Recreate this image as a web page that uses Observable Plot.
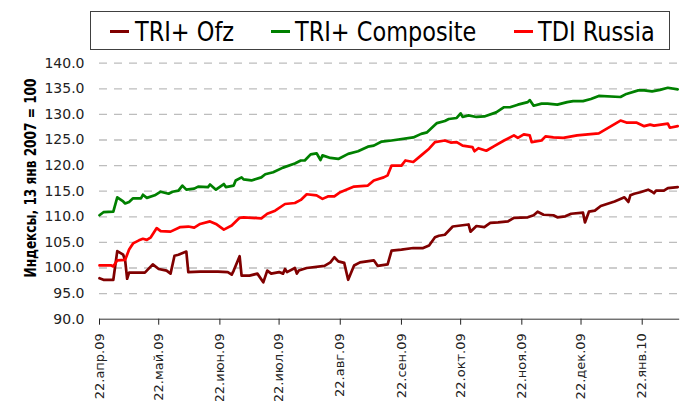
<!DOCTYPE html>
<html><head><meta charset="utf-8">
<script src="https://cdn.jsdelivr.net/npm/d3@7"></script>
<script src="https://cdn.jsdelivr.net/npm/@observablehq/plot@0.6"></script>
<style>
html,body{margin:0;padding:0;background:#fff;}
#wrap{position:relative;width:680px;height:401px;overflow:hidden;font-family:"DejaVu Sans";}
#legend{position:absolute;left:90px;top:11px;width:580px;height:39px;box-sizing:border-box;border:1px solid #404040;background:#fff;}
.sw{position:absolute;top:18px;height:3px;width:19px;}
.lt{position:absolute;top:6px;font-size:27px;line-height:1;white-space:nowrap;transform-origin:0 50%;transform:scaleX(0.83);color:#000;}
#chart{position:absolute;left:0;top:52px;}
</style></head>
<body>
<div id="wrap">
  <div id="legend"></div>
  <div id="chart"></div>
</div>
<script>
// ---- data ----
const seriesNames = ["TRI+ Ofz", "TRI+ Composite", "TDI Russia"];
const seriesColors = ["#800000", "#008000", "#ff0000"];

const ofzDates = ["2009-04-22","2009-04-24","2009-04-29","2009-05-01","2009-05-04","2009-05-05","2009-05-06","2009-05-07","2009-05-15","2009-05-19","2009-05-22","2009-05-26","2009-05-28","2009-05-30","2009-06-01","2009-06-05","2009-06-06","2009-06-12","2009-06-21","2009-06-26","2009-06-28","2009-06-29","2009-07-02","2009-07-03","2009-07-07","2009-07-11","2009-07-14","2009-07-16","2009-07-18","2009-07-22","2009-07-24","2009-07-25","2009-07-26","2009-07-30","2009-07-31","2009-08-01","2009-08-05","2009-08-14","2009-08-17","2009-08-19","2009-08-21","2009-08-24","2009-08-26","2009-08-29","2009-09-01","2009-09-08","2009-09-10","2009-09-15","2009-09-17","2009-09-22","2009-09-28","2009-10-03","2009-10-06","2009-10-09","2009-10-11","2009-10-14","2009-10-18","2009-10-26","2009-10-27","2009-10-30","2009-11-03","2009-11-06","2009-11-10","2009-11-15","2009-11-18","2009-11-25","2009-11-28","2009-11-30","2009-12-03","2009-12-08","2009-12-10","2009-12-14","2009-12-17","2009-12-23","2009-12-24","2009-12-26","2009-12-29","2010-01-01","2010-01-08","2010-01-13","2010-01-15","2010-01-16","2010-01-18","2010-01-21","2010-01-25","2010-01-27","2010-01-28","2010-01-29","2010-02-02","2010-02-04","2010-02-09"];
const ofzValues = [98.0,97.7,97.7,103.3,102.6,101.5,97.9,99.1,99.1,100.7,99.8,99.5,98.9,102.4,102.6,103.2,99.2,99.3,99.3,99.2,98.7,99.5,102.3,98.5,98.5,98.9,97.2,99.5,98.9,99.2,98.9,99.8,99.2,100.0,98.9,99.5,100.0,100.4,101.1,102.1,101.3,101.0,97.7,100.5,101.1,101.5,100.4,100.7,103.4,103.6,103.9,103.9,104.4,106.0,106.3,106.5,108.1,108.5,107.1,108.2,108.0,108.8,108.9,109.1,109.8,109.9,110.3,111.0,110.4,110.3,109.9,110.1,110.6,110.8,108.9,111.0,111.2,112.1,113.0,113.8,112.9,114.2,114.5,114.8,115.3,114.9,114.6,115.1,115.1,115.6,115.8];

const compDates = ["2009-04-22","2009-04-24","2009-04-29","2009-05-01","2009-05-04","2009-05-05","2009-05-07","2009-05-09","2009-05-13","2009-05-14","2009-05-16","2009-05-20","2009-05-23","2009-05-27","2009-05-29","2009-06-01","2009-06-03","2009-06-05","2009-06-09","2009-06-11","2009-06-16","2009-06-17","2009-06-20","2009-06-24","2009-06-25","2009-06-29","2009-06-30","2009-07-03","2009-07-04","2009-07-08","2009-07-13","2009-07-15","2009-07-19","2009-07-24","2009-07-30","2009-08-02","2009-08-04","2009-08-07","2009-08-10","2009-08-12","2009-08-13","2009-08-17","2009-08-21","2009-08-26","2009-08-31","2009-09-05","2009-09-08","2009-09-12","2009-09-17","2009-09-28","2009-10-02","2009-10-05","2009-10-10","2009-10-14","2009-10-16","2009-10-20","2009-10-22","2009-10-23","2009-10-26","2009-10-30","2009-11-03","2009-11-09","2009-11-13","2009-11-16","2009-11-20","2009-11-25","2009-11-26","2009-11-28","2009-12-02","2009-12-05","2009-12-10","2009-12-15","2009-12-18","2009-12-23","2009-12-27","2009-12-31","2010-01-11","2010-01-14","2010-01-20","2010-01-23","2010-01-27","2010-01-31","2010-02-04","2010-02-09"];
const compValues = [110.3,110.9,111.0,113.8,113.0,112.6,112.9,113.6,113.6,114.3,113.7,114.2,114.9,114.5,114.9,115.1,116.1,115.3,115.5,115.9,115.8,116.3,115.3,116.4,115.8,116.1,117.1,117.7,117.3,117.1,117.7,118.3,118.7,119.6,120.4,121.0,121.0,122.2,122.4,121.1,122.0,121.5,121.3,122.3,122.8,123.7,123.9,124.7,124.9,125.5,126.2,126.5,128.3,128.7,129.1,129.3,130.2,129.5,129.8,129.5,129.6,130.4,131.4,131.4,131.9,132.4,132.8,131.7,132.1,132.1,131.9,132.4,132.6,132.6,133.0,133.6,133.4,134.0,134.7,134.7,134.5,134.8,135.2,134.9];

const tdiDates = ["2009-04-22","2009-04-28","2009-04-29","2009-05-01","2009-05-05","2009-05-07","2009-05-09","2009-05-12","2009-05-14","2009-05-16","2009-05-18","2009-05-21","2009-05-23","2009-05-28","2009-06-02","2009-06-06","2009-06-09","2009-06-12","2009-06-17","2009-06-20","2009-06-24","2009-06-28","2009-07-02","2009-07-04","2009-07-13","2009-07-16","2009-07-20","2009-07-25","2009-07-30","2009-08-02","2009-08-05","2009-08-10","2009-08-13","2009-08-16","2009-08-19","2009-08-22","2009-08-29","2009-09-05","2009-09-08","2009-09-13","2009-09-15","2009-09-17","2009-09-22","2009-09-24","2009-09-28","2009-10-02","2009-10-06","2009-10-09","2009-10-14","2009-10-17","2009-10-20","2009-10-23","2009-10-28","2009-10-29","2009-10-31","2009-11-04","2009-11-08","2009-11-13","2009-11-18","2009-11-20","2009-11-23","2009-11-26","2009-11-27","2009-12-02","2009-12-04","2009-12-08","2009-12-13","2009-12-20","2009-12-31","2010-01-11","2010-01-14","2010-01-19","2010-01-23","2010-01-26","2010-01-28","2010-02-04","2010-02-05","2010-02-09"];
const tdiValues = [100.5,100.5,100.3,101.5,101.6,103.6,104.8,105.4,105.7,105.5,106.0,107.8,107.2,107.1,108.0,108.1,107.9,108.6,109.1,108.6,107.5,108.3,109.8,109.9,109.7,110.6,111.2,112.5,112.7,113.3,114.4,114.2,113.5,114.0,114.0,114.8,115.9,116.1,117.1,117.7,118.1,120.0,120.0,121.0,120.7,122.0,123.3,124.6,124.9,124.5,124.6,123.9,123.6,122.8,123.4,122.9,123.8,124.9,125.9,125.4,126.1,125.9,124.6,124.9,125.7,125.5,125.4,125.9,126.3,128.8,128.4,128.4,127.7,128.0,127.8,128.2,127.4,127.7];

const xTickDates = ["2009-04-22","2009-05-22","2009-06-22","2009-07-22","2009-08-22","2009-09-22","2009-10-22","2009-11-22","2009-12-22","2010-01-22"];
const xTickLabels = ["22.апр.09","22.май.09","22.июн.09","22.июл.09","22.авг.09","22.сен.09","22.окт.09","22.ноя.09","22.дек.09","22.янв.10"];
const yTicks = [90,95,100,105,110,115,120,125,130,135,140];
const yTitle = "Индексы, 13 янв 2007 = 100";

// ---- build ----
const toRows = (dates, values) => dates.map((d, i) => ({date: new Date(d), value: values[i]}));
const ofz = toRows(ofzDates, ofzValues);
const comp = toRows(compDates, compValues);
const tdi = toRows(tdiDates, tdiValues);
const tickDates = xTickDates.map(d => new Date(d));
const labelMap = new Map(tickDates.map((d, i) => [+d, xTickLabels[i]]));

// legend
const legend = document.getElementById("legend");
const swLeft = [19, 180, 423];
const txLeft = [44, 204, 446.7];
seriesNames.forEach((name, i) => {
  const sw = document.createElement("span");
  sw.className = "sw"; sw.style.left = swLeft[i] + "px"; sw.style.background = seriesColors[i];
  const tx = document.createElement("span");
  tx.className = "lt"; tx.style.left = txLeft[i] + "px"; tx.textContent = name;
  legend.append(sw, tx);
});

const chart = Plot.plot({
  width: 680, height: 349,
  marginLeft: 99, marginRight: 0.8, marginTop: 10.7, marginBottom: 82.3,
  style: {fontFamily: "DejaVu Sans", color: "#222", background: "transparent", overflow: "visible"},
  x: {type: "utc", domain: [new Date("2009-04-22"), new Date("2010-02-10")]},
  y: {domain: [90, 140]},
  marks: [
    Plot.ruleY(yTicks.filter(d => d > 90), {stroke: "#bdbdbd", strokeWidth: 1.3, strokeDasharray: "8,7"}),
    Plot.axisY({ticks: yTicks, tickSize: 0, tickPadding: 15, tickFormat: d => d.toFixed(1), fontSize: 14, label: null}),
    Plot.axisX({ticks: tickDates, tickFormat: d => labelMap.get(+d), tickRotate: -90, tickSize: 6, tickPadding: 8, fontSize: 13, label: null}),
    Plot.ruleY([90], {stroke: "#333", strokeWidth: 1}),
    Plot.text([yTitle], {frameAnchor: "left", textAnchor: "middle", lineAnchor: "middle", rotate: -90, dx: -69, dy: -13.2, fontWeight: "bold", fontSize: 16, fontFamily: "DejaVu Sans", fill: "#000"}),
    Plot.line(ofz, {x: "date", y: "value", stroke: seriesColors[0], strokeWidth: 2.7}),
    Plot.line(comp, {x: "date", y: "value", stroke: seriesColors[1], strokeWidth: 2.7}),
    Plot.line(tdi, {x: "date", y: "value", stroke: seriesColors[2], strokeWidth: 2.7})
  ]
});
// fit the axis title to the reference's length
chart.querySelectorAll("text").forEach(t => {
  if (t.textContent === yTitle) {
    t.setAttribute("textLength", "199");
    t.setAttribute("lengthAdjust", "spacingAndGlyphs");
  }
});
document.getElementById("chart").append(chart);
</script>
</body></html>
